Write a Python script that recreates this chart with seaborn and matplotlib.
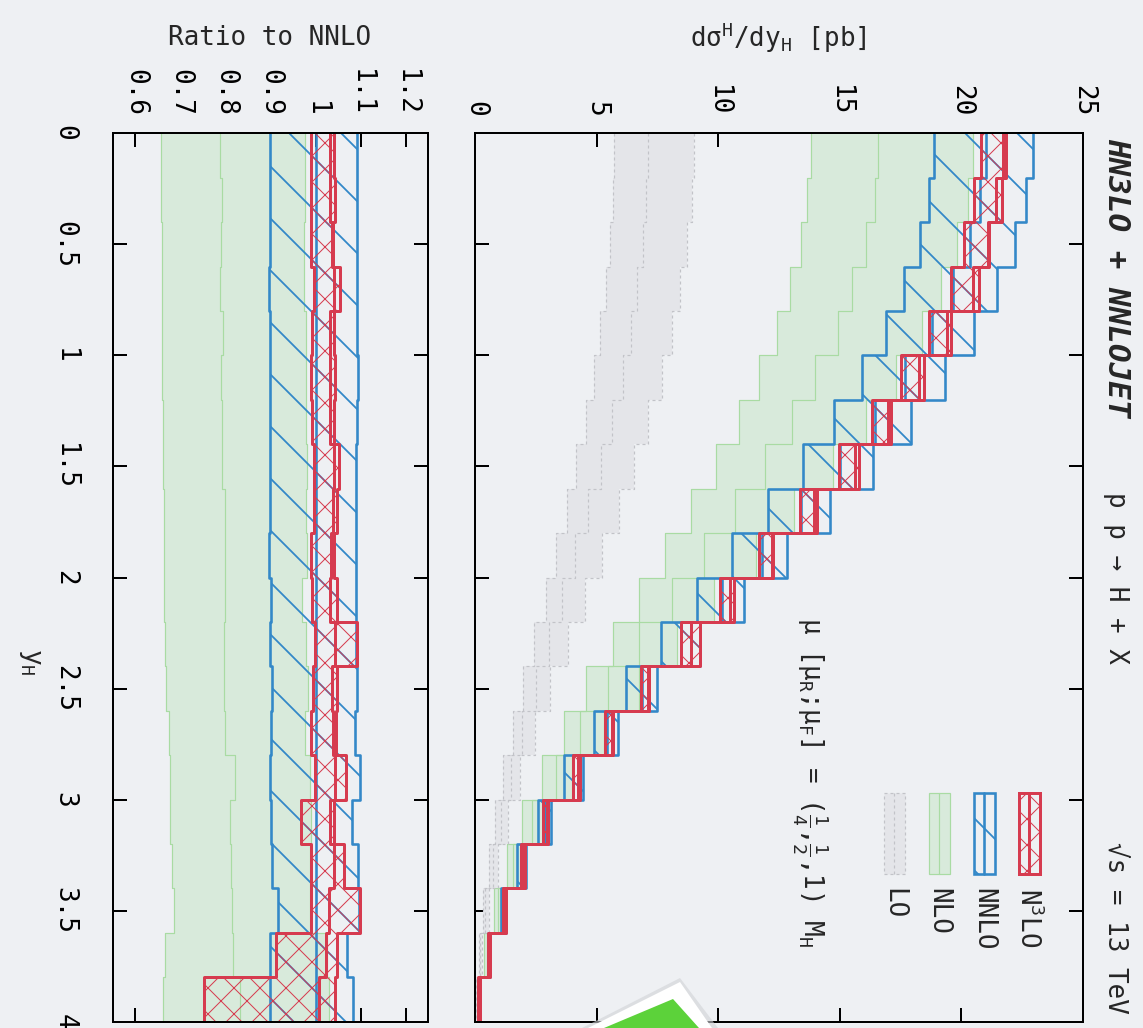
import numpy as np
import matplotlib
matplotlib.use("Agg")
import matplotlib.pyplot as plt
import seaborn as sns
from matplotlib.patches import Rectangle, Polygon
from matplotlib.lines import Line2D

# ---------------- data ----------------
yh_edges = [0.0, 0.2, 0.4, 0.6, 0.8, 1.0, 1.2, 1.4, 1.6, 1.8, 2.0,
            2.2, 2.4, 2.6, 2.8, 3.0, 3.2, 3.4, 3.6, 3.8, 4.0]
yh_ticks = [0, 0.5, 1, 1.5, 2, 2.5, 3, 3.5, 4]
yh_ticklabels = ["0", "0.5", "1", "1.5", "2", "2.5", "3", "3.5", "4"]
xs_ticks = [0, 5, 10, 15, 20, 25]
xs_ticklabels = ["0", "5", "10", "15", "20", "25"]
ratio_ticks = [0.6, 0.7, 0.8, 0.9, 1.0, 1.1, 1.2]
ratio_ticklabels = ["0.6", "0.7", "0.8", "0.9", "1", "1.1", "1.2"]

# NNLO central value dsigma/dy_H [pb]
nnlo_central = [21.0, 20.75, 20.35, 19.67, 18.8, 17.7, 16.43, 15.02, 13.42, 11.79,
                10.15, 8.49, 6.85, 5.42, 4.05, 2.88, 1.93, 1.15, 0.58, 0.19]
# LO band [pb]
lo_low = [5.71, 5.66, 5.54, 5.37, 5.15, 4.90, 4.57, 4.16, 3.78, 3.34,
          2.90, 2.41, 1.97, 1.56, 1.14, 0.84, 0.57, 0.32, 0.16, 0.05]
lo_central = [7.12, 7.05, 6.92, 6.67, 6.41, 6.08, 5.62, 5.19, 4.64, 4.13,
              3.59, 3.04, 2.49, 1.95, 1.49, 1.08, 0.73, 0.43, 0.21, 0.08]
lo_high = [9.02, 8.93, 8.73, 8.43, 8.09, 7.67, 7.13, 6.53, 5.92, 5.23,
           4.54, 3.82, 3.09, 2.47, 1.86, 1.35, 0.94, 0.57, 0.30, 0.12]
# ratios to NNLO central
nlo_ratio_low = [0.658, 0.658, 0.659, 0.659, 0.660, 0.659, 0.661, 0.661, 0.663, 0.663,
                 0.664, 0.667, 0.669, 0.674, 0.676, 0.678, 0.681, 0.687, 0.665, 0.661]
nlo_ratio_central = [0.789, 0.793, 0.790, 0.789, 0.795, 0.790, 0.793, 0.793, 0.798, 0.800,
                     0.798, 0.796, 0.796, 0.798, 0.822, 0.811, 0.813, 0.815, 0.817, 0.833]
nlo_ratio_high = [0.976, 0.976, 0.974, 0.974, 0.978, 0.978, 0.978, 0.980, 0.978, 0.981,
                  0.970, 0.978, 0.983, 0.976, 0.987, 0.989, 0.987, 0.987, 1.026, 1.030]
nnlo_ratio_low = [0.899, 0.899, 0.899, 0.897, 0.899, 0.899, 0.899, 0.899, 0.899, 0.897,
                  0.900, 0.899, 0.904, 0.900, 0.899, 0.900, 0.904, 0.916, 0.899, 0.899]
nnlo_ratio_high = [1.092, 1.091, 1.091, 1.091, 1.091, 1.093, 1.091, 1.089, 1.089, 1.089,
                   1.089, 1.089, 1.091, 1.087, 1.098, 1.081, 1.093, 1.096, 1.070, 1.084]
n3lo_ratio_low = [0.990, 0.989, 0.989, 0.996, 0.992, 0.990, 0.993, 0.996, 0.996, 0.990,
                  0.993, 0.998, 0.995, 0.990, 0.998, 0.967, 0.989, 0.989, 0.913, 0.752]
n3lo_ratio_central = [1.033, 1.033, 1.036, 1.041, 1.033, 1.032, 1.033, 1.041, 1.039, 1.035,
                      1.033, 1.044, 1.037, 1.039, 1.042, 1.033, 1.041, 1.030, 1.024, 1.007]
n3lo_ratio_high = [1.040, 1.044, 1.039, 1.054, 1.041, 1.042, 1.041, 1.052, 1.048, 1.041,
                   1.048, 1.091, 1.047, 1.045, 1.067, 1.041, 1.064, 1.099, 1.048, 1.042]

# ---------------- style ----------------
DPI = 312
W, H = 1143, 1028
PT = 72.0 / DPI  # points per pixel

BG = "#eef0f3"
RED = "#d63b4f"
BLUE = "#3388c8"
GREEN_FILL = "#d8eadb"
GREEN_LINE = "#a9dba3"
GRAY_FILL = "#e4e5e9"
GRAY_LINE = "#c2c3c8"
HATCH_NNLO = "\\\\"
HATCH_N3LO = "xxxx"

sns.set_theme(style="white")
plt.rcParams.update({
    "figure.facecolor": BG,
    "axes.facecolor": BG,
    "axes.edgecolor": "black",
    "axes.linewidth": 2 * PT,
    "mathtext.fontset": "custom",
    "mathtext.rm": "DejaVu Sans Mono",
    "mathtext.it": "DejaVu Sans Mono:italic",
    "mathtext.bf": "DejaVu Sans Mono:bold",
    "mathtext.sf": "DejaVu Sans Mono",
    "mathtext.default": "regular",
})
plt.rcParams["font.family"] = ["DejaVu Sans Mono", "DejaVu Sans"]
FS = 26 * PT

fig = plt.figure(figsize=(W / DPI, H / DPI), dpi=DPI, facecolor=BG)


def px_rect(x0, y0, x1, y1):
    return [x0 / W, 1 - y1 / H, (x1 - x0) / W, (y1 - y0) / H]


def fx(x):
    return x / W


def fy(y):
    return 1 - y / H


ax_r = fig.add_axes(px_rect(112.7, 133.3, 428.3, 1021.7))
ax_m = fig.add_axes(px_rect(475.0, 133.3, 1083.0, 1021.7))

edges = np.array(yh_edges)


def ext(a):
    a = np.asarray(a, dtype=float)
    return np.append(a, a[-1])


def step_line(ax, vals, color, lw, ls="-", z=2):
    sns.lineplot(x=ext(vals), y=edges, sort=False, estimator=None,
                 drawstyle="steps-pre", color=color, linewidth=lw,
                 linestyle=ls, ax=ax, legend=False, zorder=z)


def band(ax, lo, hi, central, color, lw, face=None, hatch=None,
         hatch_lw=0.3, ls="-", z=2):
    if face is not None:
        ax.fill_betweenx(edges, ext(lo), ext(hi), step="post",
                         facecolor=face, linewidth=0, zorder=z)
    if hatch is not None:
        plt.rcParams["hatch.color"] = color
        plt.rcParams["hatch.linewidth"] = hatch_lw
        coll = ax.fill_betweenx(edges, ext(lo), ext(hi), step="post",
                                facecolor="none", edgecolor=color,
                                hatch=hatch, linewidth=0, zorder=z)
        if hasattr(coll, "set_hatch_linewidth"):
            coll.set_hatch_linewidth(hatch_lw)
    for arr in (lo, hi, central):
        step_line(ax, arr, color, lw, ls, z + 0.1)


nnlo_c = np.array(nnlo_central)
nnlo_ratio_central = nnlo_c / nnlo_c

# ---------------- ratio panel ----------------
band(ax_r, nlo_ratio_low, nlo_ratio_high, nlo_ratio_central, GREEN_LINE,
     1.2 * PT, face=GREEN_FILL, z=1)
band(ax_r, nnlo_ratio_low, nnlo_ratio_high, nnlo_ratio_central, BLUE,
     2.6 * PT, hatch=HATCH_NNLO, hatch_lw=1.8 * PT, z=2)
band(ax_r, n3lo_ratio_low, n3lo_ratio_high, n3lo_ratio_central, RED,
     3.0 * PT, hatch=HATCH_N3LO, hatch_lw=1.0 * PT, z=3)

# ---------------- main panel ----------------
band(ax_m, np.array(nlo_ratio_low) * nnlo_c, np.array(nlo_ratio_high) * nnlo_c,
     np.array(nlo_ratio_central) * nnlo_c, GREEN_LINE, 1.2 * PT,
     face=GREEN_FILL, z=1)
band(ax_m, lo_low, lo_high, lo_central, GRAY_LINE, 1.2 * PT,
     face=GRAY_FILL, ls=(0, (2.5, 2.5)), z=1.3)
band(ax_m, np.array(nnlo_ratio_low) * nnlo_c, np.array(nnlo_ratio_high) * nnlo_c,
     nnlo_c, BLUE, 2.6 * PT, hatch=HATCH_NNLO, hatch_lw=1.8 * PT, z=2)
band(ax_m, np.array(n3lo_ratio_low) * nnlo_c, np.array(n3lo_ratio_high) * nnlo_c,
     np.array(n3lo_ratio_central) * nnlo_c, RED, 3.0 * PT, hatch=HATCH_N3LO,
     hatch_lw=1.0 * PT, z=3)

# ---------------- axes formatting ----------------
tick_kw = dict(direction="in", length=14 * PT, width=2 * PT, color="black",
               labelsize=FS, labelcolor="black")
for ax, xt, xl, xlim in ((ax_r, ratio_ticks, ratio_ticklabels, (0.55, 1.25)),
                         (ax_m, xs_ticks, xs_ticklabels, (0, 25))):
    ax.set_xlim(*xlim)
    ax.set_ylim(4, 0)
    ax.set_xticks(xt, xl)
    ax.set_yticks(yh_ticks, yh_ticklabels)
    ax.set_xlabel("")
    ax.set_ylabel("")
    ax.xaxis.set_ticks_position("both")
    ax.yaxis.set_ticks_position("both")
    ax.tick_params(axis="x", top=True, bottom=True, labeltop=True,
                   labelbottom=False, pad=17 * PT, labelrotation=-90, **tick_kw)
    ax.tick_params(axis="y", left=True, right=True, labelleft=(ax is ax_r),
                   labelright=False, pad=35 * PT, labelrotation=-90, **tick_kw)
    for sp in ax.spines.values():
        sp.set_visible(True)
        sp.set_linewidth(2 * PT)
        sp.set_color("black")
        sp.set_zorder(10)
    ax.grid(False)
    ax.set_facecolor("none")
for lbl in ax_r.get_yticklabels():
    lbl.set_verticalalignment("center")

# ---------------- texts ----------------
fig.text(fx(270), fy(38), "Ratio to NNLO", ha="center", va="center", fontsize=FS)
fig.text(fx(778), fy(38), r"d$\sigma^{\mathrm{H}}$/dy$_{\mathrm{H}}$ [pb]",
         ha="center", va="center", fontsize=FS)
fig.text(fx(30), fy(662), r"y$_{\mathrm{H}}$", ha="center", va="center",
         rotation=-90, fontsize=FS)
fig.text(fx(1117), fy(138), "HN3LO + NNLOJET", ha="center", va="top",
         rotation=-90, fontsize=31 * PT, fontweight="bold", fontstyle="italic")
fig.text(fx(1116), fy(578), "p p \u2192 H + X", ha="center", va="center",
         rotation=-90, fontsize=FS)
fig.text(fx(1114), fy(1014), "\u221as = 13 TeV", ha="center", va="bottom",
         rotation=-90, fontsize=FS)
fig.text(fx(810), fy(617),
         "\u03bc [\u03bc$_\\mathrm{R}$;\u03bc$_\\mathrm{F}$] = "
         "($\\frac{1}{4}$,$\\frac{1}{2}$,1) M$_\\mathrm{H}$",
         ha="center", va="top", rotation=-90, fontsize=FS)

# ---------------- legend (rotated) ----------------
leg_items = [
    ("N$^3$LO", 1019, RED, "none", HATCH_N3LO, "-", 3.0, 1.0),
    ("NNLO", 974, BLUE, "none", HATCH_NNLO, "-", 2.6, 1.8),
    ("NLO", 929, GREEN_LINE, GREEN_FILL, None, "-", 1.2, 0),
    ("LO", 884, GRAY_LINE, GRAY_FILL, None, (0, (2.5, 2.5)), 1.2, 0),
]
box_top, box_bot, box_w = 793, 874, 20.5
for label, x0, col, face, hatch, ls, lw, hlw in leg_items:
    if hatch is not None:
        plt.rcParams["hatch.color"] = col
        plt.rcParams["hatch.linewidth"] = hlw * PT
    r = Rectangle((fx(x0), fy(box_bot)), box_w / W, (box_bot - box_top) / H,
                  transform=fig.transFigure, facecolor=face, edgecolor=col,
                  linewidth=lw * PT, linestyle=ls, hatch=hatch, zorder=5)
    if hatch is not None and hasattr(r, "set_hatch_linewidth"):
        r.set_hatch_linewidth(hlw * PT)
    fig.add_artist(r)
    xc = x0 + box_w / 2
    fig.add_artist(Line2D([fx(xc), fx(xc)], [fy(box_top), fy(box_bot)],
                          transform=fig.transFigure, color=col,
                          linewidth=lw * PT, linestyle=ls, zorder=6))
    fig.text(fx(xc - 1), fy(888), label, ha="center", va="top",
             rotation=-90, fontsize=FS)

# ---------------- slide decoration (green corner) ----------------
fig.add_artist(Polygon([(fx(582), fy(1028)), (fx(680), fy(978)), (fx(718), fy(1028))],
                       closed=True, transform=fig.transFigure,
                       facecolor="#d0d2d6", edgecolor="none", zorder=20, alpha=0.6))
fig.add_artist(Polygon([(fx(588), fy(1028)), (fx(680), fy(982)), (fx(712), fy(1028))],
                       closed=True, transform=fig.transFigure,
                       facecolor="white", edgecolor="none", zorder=21))
fig.add_artist(Polygon([(fx(604), fy(1028)), (fx(673), fy(999)), (fx(699), fy(1028))],
                       closed=True, transform=fig.transFigure,
                       facecolor="#5cd23a", edgecolor="none", zorder=22))

plt.rcParams["hatch.linewidth"] = 1.6 * PT
fig.savefig("out.png", dpi=DPI, facecolor=BG)
